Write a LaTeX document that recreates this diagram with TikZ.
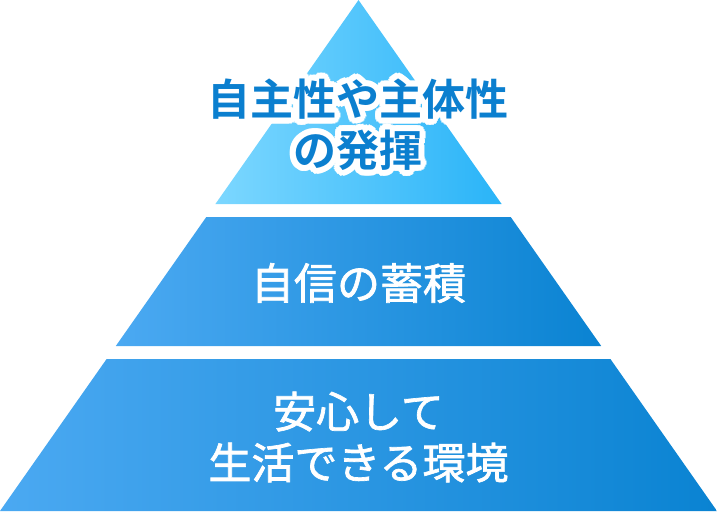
\documentclass[tikz,border=0pt]{standalone}
\usetikzlibrary{calc}
\usepackage{fontspec}
\newfontfamily\jp{Noto Sans CJK JP}[BoldFont={* Bold}]
\newfontfamily\jpmed{Noto Sans CJK JP}[FakeBold=1.6]
\definecolor{topL}{HTML}{7CD7FF}
\definecolor{topR}{HTML}{2AB4F8}
\definecolor{midL}{HTML}{4BA9F2}
\definecolor{midR}{HTML}{0A83D2}
\definecolor{txtblue}{HTML}{0B7FCF}
\begin{document}
\begin{tikzpicture}[x=1pt,y=-1pt,
  tier/.style={draw=none},
  lbl/.style={font=\jpmed\fontsize{43}{51}\selectfont, text=white, align=center, inner sep=0pt},
  halo/.style={font=\jp\bfseries\fontsize{43}{51}\selectfont, text=white, align=center, inner sep=0pt},
  toplbl/.style={font=\jp\bfseries\fontsize{43}{51}\selectfont, text=txtblue, align=center, inner sep=0pt}]
\useasboundingbox (0,0) rectangle (717,511);
\coordinate (apex) at (358.5,0);
\coordinate (tc) at (357.5,125);
\shade[tier, left color=topL, right color=topR] (apex) -- (501.6,204) -- (215.4,204) -- cycle;
\shade[tier, left color=midL, right color=midR] (206.3,217) -- (510.7,217) -- (601.2,346) -- (115.8,346) -- cycle;
\shade[tier, left color=midL, right color=midR] (106.6,359) -- (610.4,359) -- (717,511) -- (0,511) -- cycle;
\foreach \a in {0,20,...,340}{
  \node[halo] (h\a) at ($(tc)+(\a:6)$) {自主性や主体性\\の発揮};
}
\foreach \a in {0,40,...,320}{
  \node[halo] (g\a) at ($(tc)+(\a:3)$) {自主性や主体性\\の発揮};
}
\node[toplbl] (t1) at (tc) {自主性や主体性\\の発揮};
\node[lbl] (t2) at (358.5,283) {自信の蓄積};
\node[lbl] (t3) at (358.5,437) {安心して\\生活できる環境};
\end{tikzpicture}
\end{document}
